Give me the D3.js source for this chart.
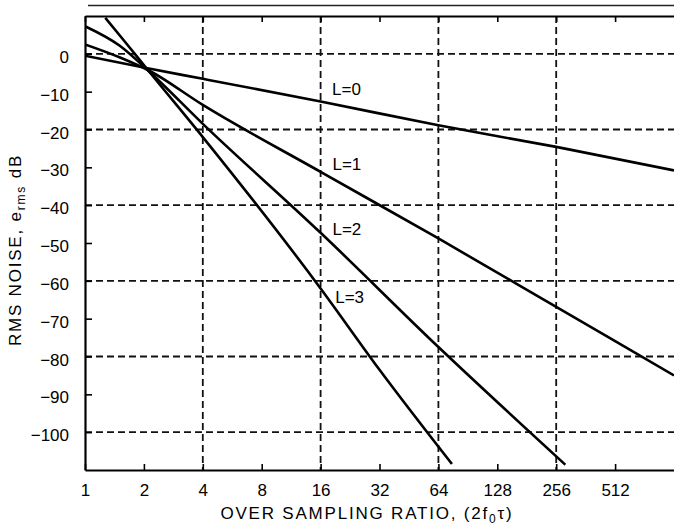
<!DOCTYPE html>
<html>

<head>
    <style>
        body { margin: 0; background: #fff; }
        svg { display: block; font-family: "Liberation Sans", Arial, Helvetica, sans-serif; }
    </style>
</head>

<body>
    <script src="https://d3js.org/d3.v7.min.js"></script>
    <div id="chart"></div>
    <script>
        const width = 674
        const height = 530
        const plot = { left: 85, right: 674, top: 16, bottom: 470 }

        // values
        const xTicks = [1, 2, 4, 8, 16, 32, 64, 128, 256, 512]
        const yTicks = [0, -10, -20, -30, -40, -50, -60, -70, -80, -90, -100]
        const gridX = [4, 16, 64, 256]
        const gridY = [0, -20, -40, -60, -80, -100]

        const noiseL0 = [[1, -0.5], [2.12, -3.9], [4, -6.6], [16, -12.6], [64, -18.9], [256, -24.6], [1024, -30.8]]
        const noiseL1 = [[1, 2.5], [1.5, -0.9], [2.12, -4.4], [4, -13.5], [16, -31.2], [64, -48.8], [256, -66.9], [1024, -85]]
        const noiseL2 = [[1, 7.3], [1.5, 2.2], [2.12, -4.6], [4, -18.5], [16, -47.3], [64, -77.5], [285, -108.6]]
        const noiseL3 = [[1.27, 9.5], [1.6, 3.2], [2.12, -4.6], [4, -22], [16, -62], [32, -83.5], [75, -108.4]]

        const seriesNames = ["L=0", "L=1", "L=2", "L=3"]
        const labelAt = [[18.3, -10.9], [18.4, -30.7], [18.4, -47.9], [19.0, -65.9]]

        const xScale = d3.scaleLog().base(2)
            .domain([1, 1024])
            .range([plot.left, plot.right])

        const yScale = d3.scaleLinear()
            .domain([-110, 10])
            .range([plot.bottom, plot.top])

        const svg = d3.select("#chart").append("svg")
            .attr("width", width).attr("height", height)

        svg.append("defs").append("clipPath").attr("id", "clip")
            .append("rect")
            .attr("x", plot.left).attr("y", plot.top)
            .attr("width", plot.right - plot.left).attr("height", plot.bottom - plot.top)

        // scanner line above the frame
        svg.append("line")
            .attr("x1", 88).attr("x2", width).attr("y1", 5.5).attr("y2", 5.5)
            .attr("stroke", "#222").attr("stroke-width", 1.5)

        // dashed grid
        svg.append("g").selectAll("line")
            .data(gridY)
            .enter()
            .append("line")
            .attr("x1", plot.left).attr("x2", plot.right)
            .attr("y1", d => yScale(d)).attr("y2", d => yScale(d))
            .attr("stroke", "#111").attr("stroke-width", 1.8)
            .attr("stroke-dasharray", "7,4")

        svg.append("g").selectAll("line")
            .data(gridX)
            .enter()
            .append("line")
            .attr("x1", d => xScale(d)).attr("x2", d => xScale(d))
            .attr("y1", plot.top).attr("y2", plot.bottom)
            .attr("stroke", "#111").attr("stroke-width", 1.8)
            .attr("stroke-dasharray", "7,4")

        // axes
        const xAxis = d3.axisBottom(xScale)
            .tickValues(xTicks)
            .tickSizeInner(-6).tickSizeOuter(0)
            .tickPadding(14)
            .tickFormat(d3.format("d"))

        const yAxis = d3.axisLeft(yScale)
            .tickValues(yTicks)
            .tickSizeInner(-7).tickSizeOuter(0)
            .tickPadding(16)
            .tickFormat(d => d < 0 ? "\u2212" + Math.abs(d) : d)

        const gx = svg.append("g")
            .attr("transform", "translate(0," + plot.bottom + ")")
            .call(xAxis)

        const gy = svg.append("g")
            .attr("transform", "translate(" + plot.left + ",0)")
            .call(yAxis)

        const gtop = svg.append("g")
            .attr("transform", "translate(0," + plot.top + ")")
            .call(d3.axisTop(xScale).tickValues(xTicks).tickSizeInner(-6).tickSizeOuter(0).tickFormat(""))

        ;[gx, gy, gtop].forEach(g => {
            g.select(".domain").attr("stroke", "#000").attr("stroke-width", 2.2)
            g.selectAll(".tick line").attr("stroke", "#000").attr("stroke-width", 1.6)
            g.selectAll(".tick text").attr("fill", "#000").attr("font-size", 17)
                .attr("font-family", "\"Liberation Sans\", Arial, sans-serif")
        })
        gy.selectAll(".tick text").attr("dy", "0.5em")

        // noise curves
        const line = d3.line()
            .x(d => xScale(d[0]))
            .y(d => yScale(d[1]))
            .curve(d3.curveMonotoneX)

        svg.append("g").attr("clip-path", "url(#clip)")
            .selectAll("path")
            .data([noiseL0, noiseL1, noiseL2, noiseL3])
            .enter()
            .append("path")
            .attr("d", line)
            .attr("fill", "none")
            .attr("stroke", "#000")
            .attr("stroke-width", 2.6)

        svg.append("g").selectAll("text")
            .data(seriesNames)
            .enter()
            .append("text")
            .attr("x", (d, i) => xScale(labelAt[i][0]))
            .attr("y", (d, i) => yScale(labelAt[i][1]))
            .attr("font-size", 17)
            .text(d => d)

        // axis titles
        const xTitle = svg.append("text")
            .attr("x", 367).attr("y", 519)
            .attr("text-anchor", "middle")
            .attr("font-size", 17)
            .attr("letter-spacing", 1.8)
        xTitle.append("tspan").text("OVER SAMPLING RATIO, (2f")
        xTitle.append("tspan").attr("font-size", 12).attr("dy", 4).text("0")
        xTitle.append("tspan").attr("dy", -4).text("\u03c4)")

        const yTitle = svg.append("text")
            .attr("transform", "translate(21,250) rotate(-90)")
            .attr("text-anchor", "middle")
            .attr("font-size", 17)
            .attr("letter-spacing", 1.8)
        yTitle.append("tspan").text("RMS NOISE, e")
        yTitle.append("tspan").attr("font-size", 12).attr("dy", 4).text("rms")
        yTitle.append("tspan").attr("dy", -4).text(" dB")
    </script>
</body>

</html>
